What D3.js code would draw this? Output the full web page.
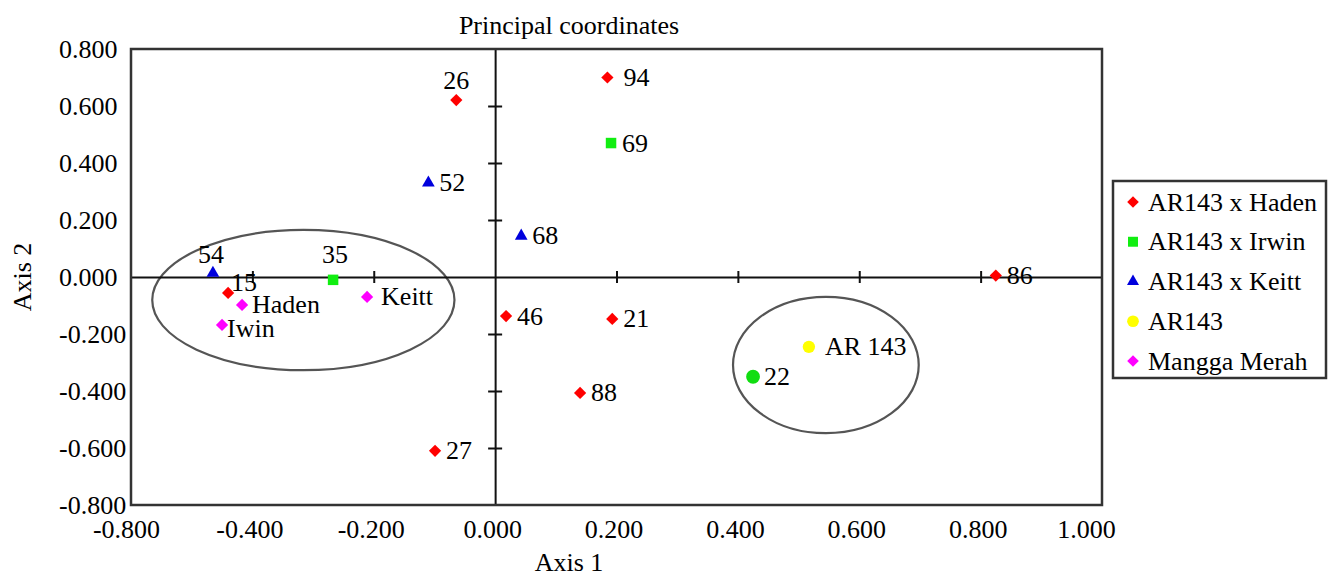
<!DOCTYPE html>
<html>
<head>
<meta charset="utf-8">
<script src="https://cdn.jsdelivr.net/npm/d3@7"></script>
<style>
  body { margin: 0; background: #fff; }
  svg text { font-family: "Liberation Serif", "Times New Roman", serif; fill: #000; }
</style>
</head>
<body>
<div id="chart"></div>
<script>
// values
const hadenPoints = [
    { label: "26", x: -0.064, y: 0.621 },
    { label: "94", x: 0.185, y: 0.700 },
    { label: "15", x: -0.440, y: -0.056 },
    { label: "86", x: 0.825, y: 0.005 },
    { label: "46", x: 0.018, y: -0.137 },
    { label: "21", x: 0.193, y: -0.147 },
    { label: "88", x: 0.140, y: -0.407 },
    { label: "27", x: -0.099, y: -0.610 }
];
const irwinPoints = [
    { label: "69", x: 0.191, y: 0.470 },
    { label: "35", x: -0.267, y: -0.010 }
];
const keittPoints = [
    { label: "52", x: -0.110, y: 0.330 },
    { label: "68", x: 0.043, y: 0.144 },
    { label: "54", x: -0.465, y: 0.014 }
];
const ar143Points = [
    { label: "AR 143", x: 0.517, y: -0.245 }
];
const manggaMerahPoints = [
    { label: "Haden", x: -0.417, y: -0.098 },
    { label: "Iwin", x: -0.450, y: -0.168 },
    { label: "Keitt", x: -0.211, y: -0.070 }
];
// point 22 has its own marker and no legend entry
const otherPoints = [
    { label: "22", x: 0.425, y: -0.350 }
];

const seriesNames = ["AR143 x Haden", "AR143 x Irwin", "AR143 x Keitt", "AR143", "Mangga Merah"];

const xTickValues = [-0.6, -0.4, -0.2, 0, 0.2, 0.4, 0.6, 0.8, 1.0];
const xTickLabels = ["-0.800", "-0.400", "-0.200", "0.000", "0.200", "0.400", "0.600", "0.800", "1.000"];
const yTickValues = [0.8, 0.6, 0.4, 0.2, 0, -0.2, -0.4, -0.6, -0.8];
const yTickLabels = ["0.800", "0.600", "0.400", "0.200", "0.000", "-0.200", "-0.400", "-0.600", "-0.800"];

// groups drawn as ellipses: centre and radii in data units
const clusters = [
    { cx: -0.316, cy: -0.081, rx: 0.249, ry: 0.246 },
    { cx: 0.545, cy: -0.309, rx: 0.153, ry: 0.239 }
];

const width = 1328, height = 579;
const plot = { left: 131, right: 1102, top: 49, bottom: 505 };
const fontSize = 26;
const serif = '"Liberation Serif", "Times New Roman", serif';

// diamond = square turned 45 degrees
const series = [
    { name: seriesNames[0], data: hadenPoints, color: "#ff0000", shape: d3.symbolSquare, size: 75, rot: 45 },
    { name: seriesNames[1], data: irwinPoints, color: "#11ee11", shape: d3.symbolSquare, size: 110, rot: 0 },
    { name: seriesNames[2], data: keittPoints, color: "#0000dd", shape: d3.symbolTriangle, size: 70, rot: 0 },
    { name: seriesNames[3], data: ar143Points, color: "#ffff00", shape: d3.symbolCircle, size: 120, rot: 0 },
    { name: seriesNames[4], data: manggaMerahPoints, color: "#ff00ff", shape: d3.symbolSquare, size: 75, rot: 45 }
];
const extra = { data: otherPoints, color: "#11dd11", shape: d3.symbolCircle, size: 150, rot: 0 };

// where a label sits relative to its point (default: right of it)
const labelOffsets = {
    "26": { dx: 0, dy: -20, anchor: "middle" },
    "54": { dx: -2, dy: -19, anchor: "middle" },
    "35": { dx: 2, dy: -25, anchor: "middle" },
    "15": { dx: 3, dy: -10, anchor: "start" },
    "94": { dx: 16, dy: 0, anchor: "start" },
    "AR 143": { dx: 16, dy: 0, anchor: "start" },
    "Keitt": { dx: 14, dy: 0, anchor: "start" },
    "Haden": { dx: 10, dy: 0, anchor: "start" },
    "Iwin": { dx: 5, dy: 4, anchor: "start" }
};

const x = d3.scaleLinear().domain([-0.6, 1.0]).range([plot.left, plot.right]);
const y = d3.scaleLinear().domain([-0.8, 0.8]).range([plot.bottom, plot.top]);

const svg = d3.select("#chart")
    .append("svg")
    .attr("width", width)
    .attr("height", height);

// ellipses behind everything
svg.append("g")
    .selectAll("ellipse")
    .data(clusters)
    .enter().append("ellipse")
    .attr("cx", d => x(d.cx))
    .attr("cy", d => y(d.cy))
    .attr("rx", d => x(d.cx + d.rx) - x(d.cx))
    .attr("ry", d => y(d.cy) - y(d.cy + d.ry))
    .attr("fill", "none")
    .attr("stroke", "#555")
    .attr("stroke-width", 2.2);

// zero lines with crossing ticks
const xZero = svg.append("g")
    .attr("transform", `translate(0,${y(0)})`)
    .call(d3.axisBottom(x).tickValues(xTickValues.filter(v => v > -0.6 && v < 1 && v !== 0)).tickFormat("").tickSizeOuter(0));
xZero.select(".domain").attr("stroke", "#111").attr("stroke-width", 2);
xZero.selectAll(".tick line").attr("y1", -6).attr("y2", 6).attr("stroke", "#111").attr("stroke-width", 2);

const yZero = svg.append("g")
    .attr("transform", `translate(${x(0)},0)`)
    .call(d3.axisLeft(y).tickValues(yTickValues.filter(v => Math.abs(v) < 0.8 && v !== 0)).tickFormat("").tickSizeOuter(0));
yZero.select(".domain").attr("stroke", "#111").attr("stroke-width", 2);
yZero.selectAll(".tick line").attr("x1", -7).attr("x2", 7).attr("stroke", "#111").attr("stroke-width", 2);

// frame
svg.append("rect")
    .attr("x", plot.left)
    .attr("y", plot.top)
    .attr("width", plot.right - plot.left)
    .attr("height", plot.bottom - plot.top)
    .attr("fill", "none")
    .attr("stroke", "#333")
    .attr("stroke-width", 2.5);

// tick labels
const xLabels = svg.append("g")
    .attr("transform", `translate(0,${plot.bottom})`)
    .call(d3.axisBottom(x).tickValues(xTickValues).tickFormat((d, i) => xTickLabels[i]).tickSize(0).tickPadding(15));
xLabels.select(".domain").remove();
xLabels.selectAll("text")
    .style("font-size", fontSize + "px")
    .style("font-family", serif)
    .attr("dx", (d, i) => i === 0 ? -5 : (i === xTickLabels.length - 1 ? -16 : -3));

const yLabels = svg.append("g")
    .attr("transform", `translate(${plot.left},0)`)
    .call(d3.axisLeft(y).tickValues(yTickValues).tickFormat((d, i) => yTickLabels[i]).tickSize(0));
yLabels.select(".domain").remove();
yLabels.selectAll("text")
    .style("font-size", fontSize + "px")
    .style("font-family", serif)
    .attr("text-anchor", "start")
    .attr("x", 59 - plot.left);

// titles
svg.append("text")
    .attr("x", 569).attr("y", 34)
    .attr("text-anchor", "middle")
    .style("font-size", fontSize + "px")
    .text("Principal coordinates");
svg.append("text")
    .attr("x", 569).attr("y", 571)
    .attr("text-anchor", "middle")
    .style("font-size", fontSize + "px")
    .text("Axis 1");
svg.append("text")
    .attr("transform", `translate(31,${y(0)}) rotate(-90)`)
    .attr("text-anchor", "middle")
    .style("font-size", fontSize + "px")
    .text("Axis 2");

// points and labels
const allGroups = series.concat([extra]);
allGroups.forEach(s => {
    const g = svg.append("g");
    g.selectAll("path")
        .data(s.data)
        .enter().append("path")
        .attr("d", d3.symbol().type(s.shape).size(s.size))
        .attr("transform", d => `translate(${x(d.x)},${y(d.y)}) rotate(${s.rot})`)
        .attr("fill", s.color);
    g.selectAll("text")
        .data(s.data)
        .enter().append("text")
        .attr("x", d => x(d.x) + (labelOffsets[d.label] ? labelOffsets[d.label].dx : 11))
        .attr("y", d => y(d.y) + (labelOffsets[d.label] ? labelOffsets[d.label].dy : 0))
        .attr("text-anchor", d => labelOffsets[d.label] ? labelOffsets[d.label].anchor : "start")
        .attr("dominant-baseline", "central")
        .style("font-size", fontSize + "px")
        .text(d => d.label);
});

// legend
const legendBox = { x: 1113, y: 181, w: 213, h: 197 };
const legend = svg.append("g");
legend.append("rect")
    .attr("x", legendBox.x)
    .attr("y", legendBox.y)
    .attr("width", legendBox.w)
    .attr("height", legendBox.h)
    .attr("fill", "#fff")
    .attr("stroke", "#333")
    .attr("stroke-width", 2.5);

const rowY = d3.scalePoint().domain(seriesNames).range([legendBox.y + 21, legendBox.y + 180]);
const item = legend.selectAll("g.item")
    .data(series)
    .enter().append("g")
    .attr("class", "item")
    .attr("transform", d => `translate(${legendBox.x + 20},${rowY(d.name)})`);
item.append("path")
    .attr("d", d => d3.symbol().type(d.shape).size(d.size * 0.9)())
    .attr("transform", d => `rotate(${d.rot})`)
    .attr("fill", d => d.color);
item.append("text")
    .attr("x", 15)
    .attr("dominant-baseline", "central")
    .style("font-size", fontSize + "px")
    .text(d => d.name);
</script>
</body>
</html>
